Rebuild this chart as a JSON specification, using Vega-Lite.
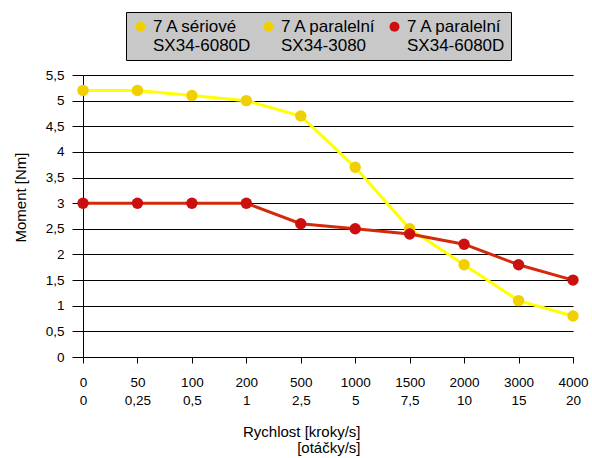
{
  "$schema": "https://vega.github.io/schema/vega-lite/v6.json",
  "autosize": "none",
  "width": 490,
  "height": 282,
  "padding": {"left": 83, "top": 75, "right": 19, "bottom": 101},
  "background": "white",
  "config": {
    "view": {"stroke": null},
    "font": "Liberation Sans",
    "axis": {"labelFont": "Liberation Sans", "titleFont": "Liberation Sans", "labelColor": "black", "titleColor": "black", "titleFontWeight": "normal", "domainColor": "black", "tickColor": "black", "gridColor": "black", "gridOpacity": 1}
  },
  "data": {
    "values": [
      {"rychlost": "0", "serie": "7 A paralelní|SX34-3080", "moment": 5.2},
      {"rychlost": "50", "serie": "7 A paralelní|SX34-3080", "moment": 5.2},
      {"rychlost": "100", "serie": "7 A paralelní|SX34-3080", "moment": 5.1},
      {"rychlost": "200", "serie": "7 A paralelní|SX34-3080", "moment": 5.0},
      {"rychlost": "500", "serie": "7 A paralelní|SX34-3080", "moment": 4.7},
      {"rychlost": "1000", "serie": "7 A paralelní|SX34-3080", "moment": 3.7},
      {"rychlost": "1500", "serie": "7 A paralelní|SX34-3080", "moment": 2.5},
      {"rychlost": "2000", "serie": "7 A paralelní|SX34-3080", "moment": 1.8},
      {"rychlost": "3000", "serie": "7 A paralelní|SX34-3080", "moment": 1.1},
      {"rychlost": "4000", "serie": "7 A paralelní|SX34-3080", "moment": 0.8},
      {"rychlost": "0", "serie": "7 A paralelní|SX34-6080D", "moment": 3.0},
      {"rychlost": "50", "serie": "7 A paralelní|SX34-6080D", "moment": 3.0},
      {"rychlost": "100", "serie": "7 A paralelní|SX34-6080D", "moment": 3.0},
      {"rychlost": "200", "serie": "7 A paralelní|SX34-6080D", "moment": 3.0},
      {"rychlost": "500", "serie": "7 A paralelní|SX34-6080D", "moment": 2.6},
      {"rychlost": "1000", "serie": "7 A paralelní|SX34-6080D", "moment": 2.5},
      {"rychlost": "1500", "serie": "7 A paralelní|SX34-6080D", "moment": 2.4},
      {"rychlost": "2000", "serie": "7 A paralelní|SX34-6080D", "moment": 2.2},
      {"rychlost": "3000", "serie": "7 A paralelní|SX34-6080D", "moment": 1.8},
      {"rychlost": "4000", "serie": "7 A paralelní|SX34-6080D", "moment": 1.5}
    ]
  },
  "encoding": {
    "x": {
      "field": "rychlost",
      "type": "ordinal",
      "sort": ["0", "50", "100", "200", "500", "1000", "1500", "2000", "3000", "4000"],
      "scale": {"type": "point", "padding": 0},
      "axis": {
        "labelAngle": 0,
        "labelFontSize": 13.5,
        "labelLineHeight": 18,
        "labelPadding": 12,
        "labelExpr": "[datum.label, replace(format(toNumber(datum.label)/200, ''), '.', ',')]",
        "tickSize": 6,
        "domain": true,
        "grid": false,
        "title": ["Rychlost [kroky/s]\u00a0\u00a0", "[otáčky/s]"],
        "titleFontSize": 15,
        "titleLineHeight": 16,
        "titleAlign": "right",
        "titleX": 277,
        "titlePadding": 18
      }
    },
    "y": {
      "field": "moment",
      "type": "quantitative",
      "scale": {"domain": [0, 5.5], "nice": false},
      "axis": {
        "values": [0, 0.5, 1, 1.5, 2, 2.5, 3, 3.5, 4, 4.5, 5, 5.5],
        "labelExpr": "replace(format(datum.value, '~g'), '.', ',')",
        "labelFontSize": 13.5,
        "labelPadding": 8,
        "tickSize": 11,
        "grid": true,
        "gridWidth": 1,
        "title": "Moment [Nm]",
        "titleFontSize": 15,
        "titleX": -63,
        "titleY": 122,
        "titleAlign": "center",
        "titleBaseline": "middle"
      }
    }
  },
  "layer": [
    {
      "mark": {"type": "line", "strokeWidth": 3},
      "encoding": {
        "stroke": {
          "field": "serie",
          "type": "nominal",
          "scale": {"domain": ["7 A paralelní|SX34-3080", "7 A paralelní|SX34-6080D"], "range": ["#ffff00", "#d42a0c"]},
          "legend": null
        }
      }
    },
    {
      "mark": {"type": "point", "filled": true, "size": 130, "opacity": 1, "strokeWidth": 0},
      "encoding": {
        "fill": {
          "field": "serie",
          "type": "nominal",
          "scale": {"domain": ["7 A sériové|SX34-6080D", "7 A paralelní|SX34-3080", "7 A paralelní|SX34-6080D"], "range": ["#f0d000", "#f0d000", "#cc1010"]},
          "legend": {
            "title": null,
            "orient": "none",
            "legendX": 43,
            "legendY": -63,
            "direction": "horizontal",
            "columns": 3,
            "fillColor": "#c8c8c8",
            "strokeColor": "black",
            "padding": 6,
            "symbolType": "circle",
            "symbolSize": 100,
            "symbolStrokeWidth": 0,
            "labelFont": "Liberation Sans",
            "labelFontSize": 17,
            "labelLineHeight": 20,
            "labelAlign": "left",
            "labelColor": "black",
            "labelLimit": 200,
            "labelOffset": 4,
            "columnPadding": 9,
            "labelExpr": "split(datum.label, '|')"
          }
        }
      }
    }
  ]
}
